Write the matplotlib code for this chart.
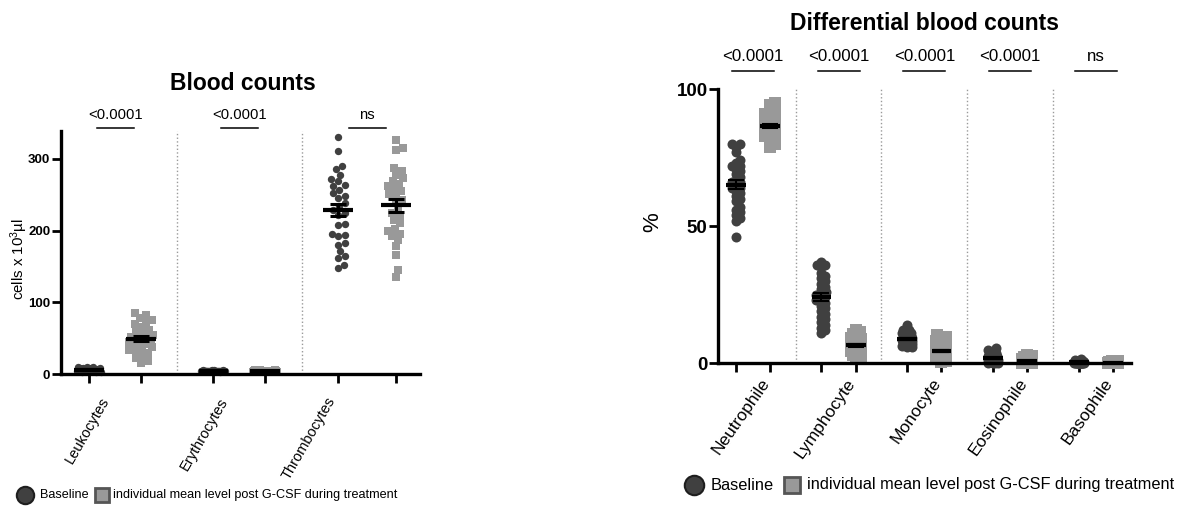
import numpy as np
import matplotlib.pyplot as plt
from matplotlib.lines import Line2D
from matplotlib.transforms import blended_transform_factory

plt.rcParams['font.family'] = ['Liberation Sans', 'DejaVu Sans']
plt.rcParams['mathtext.default'] = 'regular'

DARK = '#404040'
LIGHT = '#999999'

# ---- blood counts (cells x 10^3/ul), baseline vs post G-CSF
blood_names = ['Leukocytes', 'Erythrocytes', 'Thrombocytes']
blood_p = ['<0.0001', '<0.0001', 'ns']
leuko_base = [10, 9.6, 9.2, 8.9, 8.6, 8.2, 7.9, 7.6, 7.3, 7.1, 6.9, 6.7, 6.5, 6.3, 6.1,
              5.9, 5.7, 5.5, 5.3, 5.1, 4.9, 4.7, 4.5, 4.3, 4.0, 3.8, 3.5, 3.2, 2.9, 2.5]
leuko_post = [85, 82, 78, 76, 72, 70, 65, 62, 58, 56, 54, 52, 50, 49, 48, 47, 46, 45,
              44, 42, 40, 38, 36, 34, 32, 30, 26, 22, 18, 15]
ery_base = [5.4, 5.2, 5.1, 5.0, 4.9, 4.8, 4.7, 4.6, 4.6, 4.5, 4.5, 4.4, 4.4, 4.3, 4.3,
            4.2, 4.2, 4.1, 4.1, 4.0, 4.0, 3.9, 3.9, 3.8, 3.8, 3.7, 3.7, 3.6, 3.5, 3.4]
ery_post = [5.6, 5.3, 5.1, 4.9, 4.7, 4.6, 4.5, 4.4, 4.3, 4.2, 4.1, 4.0, 4.0, 3.9, 3.9,
            3.8, 3.8, 3.7, 3.7, 3.6, 3.6, 3.5, 3.5, 3.4, 3.3, 3.2, 3.1, 3.0, 2.9, 2.8]
thrombo_base = [331, 311, 290, 286, 278, 272, 269, 263, 262, 257, 252, 248, 245, 238, 234,
                229, 224, 222, 209, 208, 196, 194, 192, 183, 180, 171, 164, 162, 152, 148]
thrombo_post = [327, 315, 313, 287, 283, 278, 273, 269, 265, 262, 258, 255, 251, 248, 243,
                238, 229, 224, 220, 215, 210, 203, 200, 196, 192, 187, 178, 166, 145, 136]
blood_base = [leuko_base, ery_base, thrombo_base]
blood_post = [leuko_post, ery_post, thrombo_post]

# ---- differential blood counts (%)
diff_names = ['Neutrophile', 'Lymphocyte', 'Monocyte', 'Eosinophile', 'Basophile']
diff_p = ['<0.0001', '<0.0001', '<0.0001', '<0.0001', 'ns']
neut_base = [80, 80, 79, 77, 74, 73, 72, 72, 71, 70, 69, 68, 67, 66, 66, 65, 64, 64,
             63, 62, 61, 60, 59, 57, 56, 55, 54, 53, 52, 46]
neut_post = [95, 94, 93, 92, 91, 90, 90, 89, 89, 88, 88, 88, 87, 87, 87, 86, 86, 86,
             85, 85, 85, 84, 84, 84, 83, 83, 82, 81, 80, 79]
lymph_base = [37, 36, 36, 35, 33, 32, 31, 30, 29, 28, 27, 26, 25, 25, 24, 24, 23, 23,
              22, 21, 20, 19, 18, 17, 16, 15, 14, 13, 12, 11]
lymph_post = [12, 11.5, 10.8, 10, 9.4, 8.8, 8.2, 7.8, 7.5, 7.3, 7.1, 7.0, 6.8, 6.6, 6.5,
              6.3, 6.2, 6.0, 5.8, 5.6, 5.4, 5.2, 5.0, 4.7, 4.4, 4.0, 3.5, 3.0, 2.3, 1.5]
mono_base = [13.8, 12.2, 12.0, 11.5, 11.2, 10.9, 10.6, 10.3, 10.1, 9.9, 9.7, 9.5, 9.3,
             9.1, 8.9, 8.8, 8.6, 8.4, 8.3, 8.1, 7.9, 7.7, 7.5, 7.3, 7.1, 6.9, 6.7, 6.4,
             6.1, 5.8]
mono_post = [10.2, 9.6, 8.8, 8.0, 7.2, 6.5, 6.0, 5.6, 5.3, 5.1, 4.9, 4.7, 4.5, 4.4, 4.2,
             4.0, 3.9, 3.7, 3.5, 3.3, 3.1, 2.9, 2.7, 2.5, 2.2, 2.0, 1.7, 1.4, 1.0, 0.6]
eos_base = [5.5, 4.8, 4.2, 3.8, 3.4, 3.1, 2.8, 2.6, 2.4, 2.2, 2.0, 1.9, 1.8, 1.6, 1.5,
            1.4, 1.3, 1.2, 1.1, 1.0, 0.9, 0.8, 0.7, 0.6, 0.5, 0.4, 0.3, 0.2, 0.1, 0.0]
eos_post = [3.0, 2.6, 2.3, 2.0, 1.8, 1.6, 1.4, 1.3, 1.2, 1.1, 1.0, 0.9, 0.8, 0.7, 0.7,
            0.6, 0.5, 0.5, 0.4, 0.4, 0.3, 0.3, 0.2, 0.2, 0.1, 0.1, 0.1, 0.0, 0.0, 0.0]
baso_base = [1.5, 1.2, 1.0, 0.9, 0.8, 0.7, 0.6, 0.6, 0.5, 0.5, 0.4, 0.4, 0.3, 0.3, 0.3,
             0.2, 0.2, 0.2, 0.1, 0.1, 0.1, 0.1, 0, 0, 0, 0, 0, 0, 0, 0]
baso_post = [1.0, 0.8, 0.7, 0.6, 0.5, 0.4, 0.4, 0.3, 0.3, 0.3, 0.2, 0.2, 0.2, 0.2, 0.1,
             0.1, 0.1, 0.1, 0.1, 0, 0, 0, 0, 0, 0, 0, 0, 0, 0, 0]
diff_base = [neut_base, lymph_base, mono_base, eos_base, baso_base]
diff_post = [neut_post, lymph_post, mono_post, eos_post, baso_post]


def swarm(ax, x0, vals, diam, max_px, overlap):
    # beeswarm in pixel space, capped width, overlap allowed like Prism does
    vals = np.asarray(vals, float)
    ys = ax.transData.transform(np.column_stack([np.full(len(vals), x0), vals]))[:, 1]
    kmax = int(max_px)
    cands = [0.0] + [s * k for k in range(1, kmax + 1) for s in (1, -1)]
    placed = []
    offs = np.zeros(len(vals))
    for i in np.argsort(ys):
        best, best_d = 0.0, -1
        for c in cands:
            d = min([np.hypot(c - px, ys[i] - py) for px, py in placed] or [1e9])
            if d >= overlap * diam:
                best = c
                break
            if d > best_d + 0.3:
                best, best_d = c, d
        placed.append((best, ys[i]))
        offs[i] = best
    ux = ax.transData.transform([[1, 0]])[0, 0] - ax.transData.transform([[0, 0]])[0, 0]
    return x0 + offs / ux


def panel(ax, xpos, base, post, names, pvals, ms, max_px, overlap, fs_tick, fs_p,
          line_y, text_y, p_half, lab_x, lab_y, lab_rot, lab_fs, sem_lw, sq_scale):
    trans = blended_transform_factory(ax.transData, ax.transAxes)
    for (xa, xb), vb, vp in zip(xpos, base, post):
        for x0, v, m, col, size in ((xa, vb, 'o', DARK, ms), (xb, vp, 's', LIGHT, ms * sq_scale)):
            xs = swarm(ax, x0, v, size / 72 * 100, max_px, overlap)
            ax.scatter(xs, v, s=size ** 2, marker=m, color=col, linewidths=0,
                       zorder=2, clip_on=False)
            mean = np.mean(v)
            sem = np.std(v, ddof=1) / np.sqrt(len(v))
            ax.hlines(mean, x0 - 0.29, x0 + 0.29, color='k', lw=3, zorder=4)
            ax.errorbar(x0, mean, yerr=sem, fmt='none', ecolor='k', elinewidth=sem_lw,
                        capsize=5.5, capthick=sem_lw, zorder=4)
    for (xa, xb), (xc, xd) in zip(xpos[:-1], xpos[1:]):
        ax.axvline((xb + xc) / 2, color='#9a9a9a', ls=':', lw=1, zorder=1)
    for (xa, xb), p, name, lx in zip(xpos, pvals, names, lab_x):
        c = (xa + xb) / 2
        ax.plot([c - p_half, c + p_half], [line_y, line_y], color='k', lw=1.1,
                transform=trans, clip_on=False)
        ax.text(c, text_y, p, transform=trans, ha='center', va='center', fontsize=fs_p)
        ax.text(lx, lab_y, name, transform=trans, rotation=lab_rot, ha='right',
                va='center', rotation_mode='anchor', fontsize=lab_fs)
    ax.spines[['top', 'right']].set_visible(False)
    for s in ('left', 'bottom'):
        ax.spines[s].set_linewidth(2.4)
    ax.set_xticks([x for pair in xpos for x in pair])
    ax.set_xticklabels([])
    ax.tick_params(axis='x', length=6.5, width=2)
    ax.tick_params(axis='y', length=6.5, width=2, labelsize=fs_tick, pad=1)
    for lab in ax.get_yticklabels():
        lab.set_fontweight('bold')


fig = plt.figure(figsize=(11.89, 5.09), dpi=100)

# left panel
blood_x = [(0, 1), (2.41, 3.41), (4.83, 5.96)]
axl = fig.add_axes([0.0511, 0.2652, 0.3021, 0.4774])
axl.set_xlim(-0.555, 6.42)
axl.set_ylim(0, 339)
axl.set_yticks([0, 100, 200, 300])
panel(axl, blood_x, blood_base, blood_post, blood_names, blood_p, ms=5.3, max_px=12,
      overlap=0.9, fs_tick=9.5, fs_p=10.7, line_y=1.012, text_y=1.066, p_half=0.36,
      lab_x=[0.33, 2.63, 4.72], lab_y=-0.1, lab_rot=60, lab_fs=10.5, sem_lw=2.2,
      sq_scale=1.0)

# right panel
diff_x = [(0, 1), (2.5, 3.5), (5.0, 6.0), (7.5, 8.5), (10.0, 11.0)]
axr = fig.add_axes([0.6039, 0.2862, 0.3471, 0.5389])
axr.set_xlim(-0.516, 11.52)
axr.set_ylim(0, 100)
axr.set_yticks([0, 50, 100])
panel(axr, diff_x, diff_base, diff_post, diff_names, diff_p, ms=7.2, max_px=5.5,
      overlap=0.45, fs_tick=13.5, fs_p=12.2, line_y=1.066, text_y=1.117, p_half=0.61,
      lab_x=[b - 0.1 for a, b in diff_x], lab_y=-0.062, lab_rot=55, lab_fs=12.5,
      sem_lw=1.5, sq_scale=1.1)

fig.text(242.5 / 1189, 1 - 83.5 / 509, 'Blood counts', fontsize=16.5, fontweight='bold',
         ha='center', va='center')
fig.text(925 / 1189, 1 - 23.5 / 509, 'Differential blood counts', fontsize=16.5,
         fontweight='bold', ha='center', va='center')
fig.text(19.5 / 1189, 1 - 259 / 509, 'cells x 10$^3$µl', rotation=90, fontsize=10.8,
         ha='center', va='center')
fig.text(653 / 1189, 1 - 221.7 / 509, '%', rotation=90, fontsize=16, ha='center', va='center')

# legends
legend_txt = 'individual mean level post G-CSF during treatment'
for xc, xt1, xs, xt2, y, fs, mo, msq in ((25, 40, 101.7, 113, 495, 9.1, 12.5, 10.5),
                                         (694, 710.7, 791.7, 806.7, 485, 11.8, 14, 12)):
    yf = 1 - y / 509
    fig.add_artist(Line2D([xc / 1189], [yf], transform=fig.transFigure, marker='o', ms=mo,
                          mfc=DARK, mec='#1e1e1e', mew=1.5, ls='none'))
    fig.text(xt1 / 1189, yf, 'Baseline', fontsize=fs, ha='left', va='center')
    fig.add_artist(Line2D([xs / 1189], [yf], transform=fig.transFigure, marker='s', ms=msq,
                          mfc=LIGHT, mec='#555555', mew=2, ls='none'))
    fig.text(xt2 / 1189, yf, legend_txt, fontsize=fs, ha='left', va='center')

fig.savefig('out.png', dpi=100)
